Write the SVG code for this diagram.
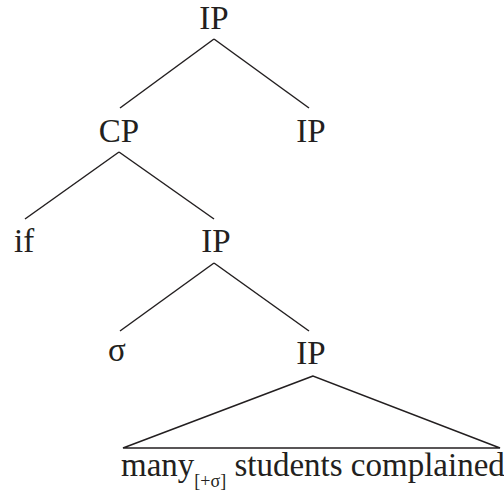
<svg xmlns="http://www.w3.org/2000/svg" width="504" height="491" viewBox="0 0 504 491">
<style>
text{font-family:"Liberation Serif","Times New Roman",serif;font-size:33px;fill:#231f20}
.c{text-anchor:middle}
line,polygon{stroke:#231f20;stroke-width:1.5;fill:none}
</style>
<rect width="504" height="491" fill="#fff"/>
<g id="connectors">
<line x1="214" y1="39" x2="120" y2="108"/>
<line x1="214" y1="39" x2="309" y2="108"/>
<line x1="119" y1="152" x2="25" y2="219"/>
<line x1="119" y1="152" x2="214" y2="219"/>
<line x1="214" y1="263" x2="120" y2="331"/>
<line x1="214" y1="263" x2="309" y2="331"/>
<polygon points="313,376 123,448 500,448"/>
</g>
<g id="ip-root"><text class="c" x="214" y="29">IP</text></g>
<g id="cp"><text class="c" x="119" y="142">CP</text></g>
<g id="ip-right"><text class="c" x="311" y="142">IP</text></g>
<g id="if"><text x="14" y="252">if</text></g>
<g id="ip-mid"><text class="c" x="216" y="252">IP</text></g>
<g id="sigma"><text class="c" x="117" y="361">σ</text></g>
<g id="ip-low"><text class="c" x="311" y="364">IP</text></g>
<g id="terminal"><text x="121" y="476" font-size="32">many<tspan font-size="18" dy="11">[+σ]</tspan><tspan dy="-11"> students complained</tspan></text></g>
</svg>
